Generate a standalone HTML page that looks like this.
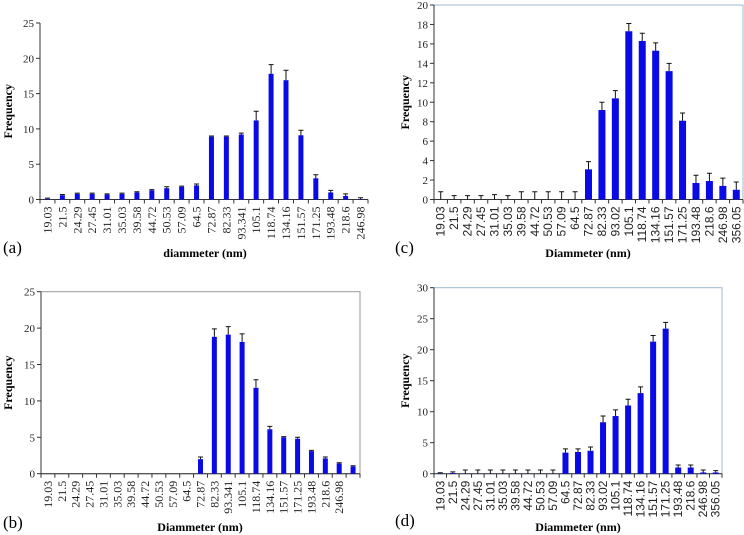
<!DOCTYPE html>
<html><head><meta charset="utf-8">
<style>
html,body{margin:0;padding:0;background:#fff;}
svg{display:block;}
.serif{font-family:"Liberation Serif",serif;}
.sans{font-family:"Liberation Sans",sans-serif;}
</style></head>
<body>
<svg id="fig" width="744" height="535" viewBox="0 0 744 535"></svg>
<script>
// Panel (a)
const catsA = ["19.03","21.5","24.29","27.45","31.01","35.03","39.58","44.72","50.53","57.09","64.5","72.87","82.33","93.341","105.1","118.74","134.16","151.57","171.25","193.48","218.6","246.98"];
const valsA = [0.1,0.6,0.8,0.8,0.7,0.8,1.0,1.3,1.6,1.8,2.0,8.9,8.9,9.2,11.2,17.8,16.9,9.1,3.0,1.0,0.5,0.05];
const errsA = [0.1,0.1,0.1,0.1,0.1,0.1,0.1,0.1,0.2,0.1,0.2,0.1,0.1,0.2,1.3,1.3,1.4,0.7,0.5,0.3,0.3,0.2];
const ticksA = [0,5,10,15,20,25];
// Panel (b)
const catsB = ["19.03","21.5","24.29","27.45","31.01","35.03","39.58","44.72","50.53","57.09","64.5","72.87","82.33","93.341","105.1","118.74","134.16","151.57","171.25","193.48","218.6","246.98",""];
const valsB = [0,0,0,0,0,0,0,0,0,0,0,2.0,18.8,19.1,18.1,11.8,6.1,5.0,4.8,3.1,2.1,1.4,1.0];
const errsB = [0,0,0,0,0,0,0,0,0,0,0,0.3,1.1,1.1,1.1,1.1,0.4,0.1,0.2,0.1,0.2,0.1,0.1];
const ticksB = [0,5,10,15,20,25];
// Panel (c)
const catsC = ["19.03","21.5","24.29","27.45","31.01","35.03","39.58","44.72","50.53","57.09","64.5","72.87","82.33","93.02","105.1","118.74","134.16","151.57","171.25","193.48","218.6","246.98","356.05"];
const valsC = [0,0,0,0,0,0,0,0,0,0,0,3.1,9.2,10.4,17.3,16.3,15.3,13.2,8.1,1.7,1.9,1.4,1.0];
const errsC = [0.8,0.4,0.4,0.4,0.5,0.4,0.8,0.8,0.8,0.8,0.8,0.8,0.8,0.8,0.8,0.8,0.8,0.8,0.8,0.8,0.8,0.8,0.8];
const ticksC = [0,2,4,6,8,10,12,14,16,18,20];
// Panel (d)
const catsD = ["19.03","21.5","24.29","27.45","31.01","35.03","39.58","44.72","50.53","57.09","64.5","72.87","82.33","93.02","105.1","118.74","134.16","151.57","171.25","193.48","218.6","246.98","356.05"];
const valsD = [0.05,0.1,0,0,0,0,0,0,0,0,3.4,3.5,3.7,8.3,9.3,11.0,13.0,21.3,23.4,1.0,1.0,0.2,0.2];
const errsD = [0.1,0.2,0.6,0.6,0.6,0.6,0.6,0.6,0.6,0.6,0.6,0.5,0.6,1.0,1.0,1.0,1.0,1.0,1.0,0.4,0.4,0.4,0.3];
const ticksD = [0,5,10,15,20,25,30];

const NS = "http://www.w3.org/2000/svg";
const svg = document.getElementById("fig");
function mk(tag, attrs, parent, text){
  const e = document.createElementNS(NS, tag);
  for (const k in attrs) e.setAttribute(k, attrs[k]);
  if (text !== undefined) e.textContent = text;
  parent.appendChild(e);
  return e;
}

function panel(cfg){
  const g = mk("g", {}, svg);
  
  
  const {L,R,T,B,ymax,cats,vals,errs,ticks} = cfg;
  const n = cats.length;
  const bw = (R - L) / n;
  const xC = i => L + bw * (i + 0.5);
  const yS = v => B - (v / ymax) * (B - T);
  if (cfg.frame) {
    const f = mk("rect", {x:L, y:T, width:R-L, height:B-T, fill:"none", stroke:cfg.frame, "stroke-width":1}, g);
    
    
  }
  const ax = mk("path", {d:`M${L},${T}V${B}H${R}`, fill:"none", stroke:"#333", "stroke-width":1}, g);
  
  
  ticks.forEach(t => {
    const y = yS(t);
    mk("line", {x1:L-4, x2:L, y1:y, y2:y, stroke:"#333"}, g);
    const tl = mk("text", {x:L-6, y:y+4, "text-anchor":"end", "font-size":11, class:"serif", fill:"#222"}, g, String(t));
    
    
  });
  for (let i = 0; i <= n; i++) {
    const x = L + bw * i;
    mk("line", {x1:x, x2:x, y1:B, y2:B+4, stroke:"#333"}, g);
  }
  cats.forEach((c, i) => {
    const x = xC(i);
    const v = vals[i], e = errs[i];
    if (v > 0) {
      const r = mk("rect", {x:x - cfg.barW/2, y:yS(v), width:cfg.barW, height:B - yS(v), fill:"#0a0ae6"}, g);
      
      
    }
    if (e > 0) {
      const yt = yS(v + e);
      const eb = mk("path", {d:`M${x},${yS(v)}V${yt}M${x-2.5},${yt}H${x+2.5}`, stroke:"#111", "stroke-width":1, fill:"none"}, g);
      
      
    }
    if (c) {
      const t = mk("text", {x:0, y:0, transform:`translate(${x+4},${B+7}) rotate(-90)`, "text-anchor":"end", "font-size":12, class:cfg.xfont, fill:"#222"}, g, c);
      
      
    }
  });
  const yt = mk("text", {x:0, y:0, transform:`translate(${cfg.ytX},${(T+B)/2}) rotate(-90)`, "text-anchor":"middle", "font-size":12, "font-weight":"bold", class:"serif"}, g, "Frequency");
  
  
  const xt = mk("text", {x:cfg.xtX, y:cfg.xtY, "text-anchor":"middle", "font-size":12, "font-weight":"bold", class:"serif"}, g, cfg.xTitle);
  
  
  const pl = mk("text", {x:cfg.plX, y:cfg.plY, "font-size":17, class:"serif"}, g, "(" + cfg.id + ")");
  
  
}

panel({id:"a", L:40, R:368, T:23, B:199.5, ymax:25, cats:catsA, vals:valsA, errs:errsA, ticks:ticksA, barW:5, xfont:"serif", frame:null, ytX:12, xtX:205, xtY:257, xTitle:"diammeter (nm)", plX:3, plY:253});
panel({id:"c", L:434, R:743, T:5, B:199.5, ymax:20, cats:catsC, vals:valsC, errs:errsC, ticks:ticksC, barW:7, xfont:"sans", frame:"#9bb8d3", ytX:409, xtX:588, xtY:257, xTitle:"Diammeter (nm)", plX:395, plY:253});
panel({id:"b", L:41, R:360, T:291.7, B:473.7, ymax:25, cats:catsB, vals:valsB, errs:errsB, ticks:ticksB, barW:5, xfont:"serif", frame:"#999", ytX:12, xtX:200, xtY:531, xTitle:"Diammeter (nm)", plX:3, plY:528});
panel({id:"d", L:434, R:722, T:287.7, B:473.7, ymax:30, cats:catsD, vals:valsD, errs:errsD, ticks:ticksD, barW:6, xfont:"sans", frame:"#9bb8d3", ytX:409, xtX:578, xtY:531, xTitle:"Diammeter (nm)", plX:395, plY:526});
</script>
</body></html>
